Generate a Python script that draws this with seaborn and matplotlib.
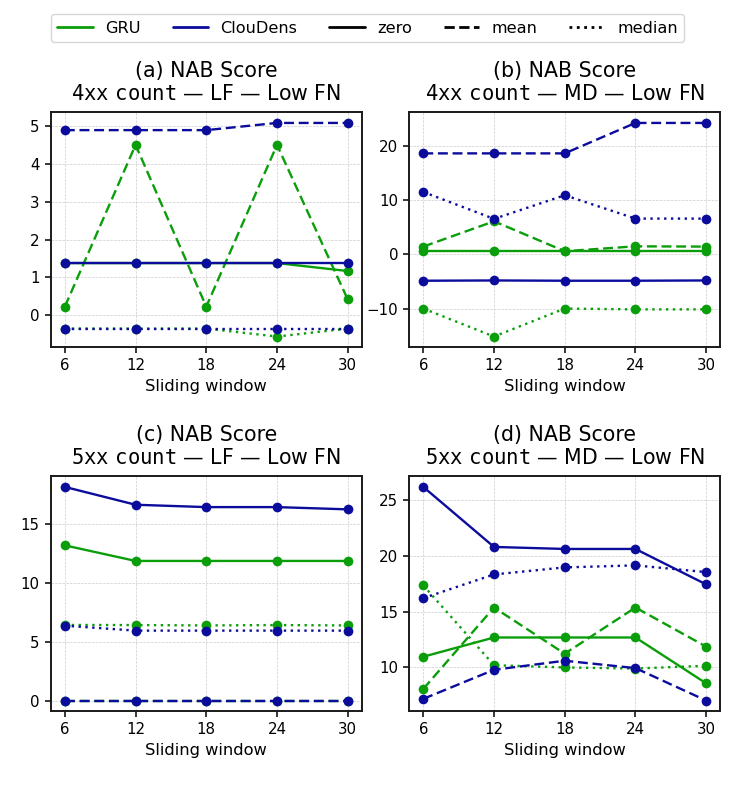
import pandas as pd
import seaborn as sns
import matplotlib.pyplot as plt
from matplotlib.lines import Line2D

windows = [6, 12, 18, 24, 30]
models = ["GRU", "ClouDens"]
stats = ["zero", "mean", "median"]

# 4xx count — LF
a_gru_zero = [1.38, 1.38, 1.38, 1.38, 1.17]
a_gru_mean = [0.23, 4.5, 0.23, 4.5, 0.42]
a_gru_median = [-0.35, -0.35, -0.35, -0.56, -0.35]
a_cd_zero = [1.37, 1.37, 1.37, 1.37, 1.37]
a_cd_mean = [4.89, 4.89, 4.89, 5.08, 5.08]
a_cd_median = [-0.35, -0.35, -0.35, -0.35, -0.35]

# 4xx count — MD
b_gru_zero = [0.67, 0.67, 0.67, 0.67, 0.67]
b_gru_mean = [1.45, 6.1, 0.6, 1.5, 1.45]
b_gru_median = [-9.95, -15.1, -9.95, -10.1, -10.1]
b_cd_zero = [-4.83, -4.78, -4.83, -4.83, -4.78]
b_cd_mean = [18.6, 18.6, 18.6, 24.2, 24.2]
b_cd_median = [11.5, 6.55, 10.9, 6.6, 6.6]

# 5xx count — LF
c_gru_zero = [13.2, 11.88, 11.88, 11.88, 11.88]
c_gru_mean = [0.06, 0.06, 0.06, 0.06, 0.06]
c_gru_median = [6.46, 6.45, 6.42, 6.45, 6.42]
c_cd_zero = [18.15, 16.64, 16.44, 16.44, 16.25]
c_cd_mean = [0.06, 0.06, 0.06, 0.06, 0.06]
c_cd_median = [6.4, 5.98, 5.98, 5.98, 5.98]

# 5xx count — MD
d_gru_zero = [10.96, 12.68, 12.68, 12.68, 8.58]
d_gru_mean = [8.08, 15.36, 11.23, 15.36, 11.86]
d_gru_median = [17.34, 10.2, 10.0, 9.9, 10.15]
d_cd_zero = [26.15, 20.78, 20.6, 20.6, 17.43]
d_cd_mean = [7.19, 9.79, 10.6, 9.94, 7.04]
d_cd_median = [16.2, 18.32, 18.95, 19.13, 18.53]

panels = [
    ("(a) NAB Score\n$\\mathtt{4xx\\ count}$ — LF — Low FN",
     {"GRU": [a_gru_zero, a_gru_mean, a_gru_median], "ClouDens": [a_cd_zero, a_cd_mean, a_cd_median]}),
    ("(b) NAB Score\n$\\mathtt{4xx\\ count}$ — MD — Low FN",
     {"GRU": [b_gru_zero, b_gru_mean, b_gru_median], "ClouDens": [b_cd_zero, b_cd_mean, b_cd_median]}),
    ("(c) NAB Score\n$\\mathtt{5xx\\ count}$ — LF — Low FN",
     {"GRU": [c_gru_zero, c_gru_mean, c_gru_median], "ClouDens": [c_cd_zero, c_cd_mean, c_cd_median]}),
    ("(d) NAB Score\n$\\mathtt{5xx\\ count}$ — MD — Low FN",
     {"GRU": [d_gru_zero, d_gru_mean, d_gru_median], "ClouDens": [d_cd_zero, d_cd_mean, d_cd_median]}),
]

colors = {"GRU": "#0a9e0a", "ClouDens": "#0c0c9c"}
dashes = {"zero": "", "mean": (4.2, 2.0), "median": (1.0, 1.9)}
markers = {"zero": "o", "mean": "o", "median": "o"}

sns.set_theme(style="ticks")
plt.rcParams["font.family"] = ["DejaVu Sans"]
plt.rcParams["mathtext.fontset"] = "dejavusans"
for key in ["text.color", "axes.labelcolor", "xtick.color", "ytick.color"]:
    plt.rcParams[key] = "black"

fig, axes = plt.subplots(2, 2, figsize=(7.35, 7.85), dpi=100)
fig.subplots_adjust(left=0.069, right=0.98, top=0.857, bottom=0.094, hspace=0.549, wspace=0.152)

for ax, (title, vals) in zip(axes.flat, panels):
    rows = []
    for m in models:
        for s, series in zip(stats, vals[m]):
            for w, v in zip(windows, series):
                rows.append({"window": w, "score": v, "model": m, "stat": s})
    df = pd.DataFrame(rows)
    sns.lineplot(data=df, x="window", y="score", hue="model", style="stat",
                 hue_order=models, style_order=stats, palette=colors,
                 dashes=dashes, markers=markers, markersize=7, markeredgewidth=0,
                 linewidth=1.7, legend=False, ax=ax)
    ax.set_title(title, fontsize=14.8, linespacing=1.2, pad=9)
    ax.set_xticks(windows)
    ax.set_xlabel("Sliding window", fontsize=11.7)
    ax.set_ylabel("")
    ax.grid(True, linestyle="--", linewidth=0.5, color="#cccccc")
    ax.tick_params(labelsize=10.8, length=4.5, width=1.1)
    for sp in ax.spines.values():
        sp.set_linewidth(1.4)
        sp.set_color("#1a1a1a")

handles = [
    Line2D([], [], color=colors["GRU"], lw=2),
    Line2D([], [], color=colors["ClouDens"], lw=2),
    Line2D([], [], color="black", lw=2, linestyle="-"),
    Line2D([], [], color="black", lw=2, linestyle="--"),
    Line2D([], [], color="black", lw=2, linestyle=":"),
]
fig.legend(handles, ["GRU", "ClouDens", "zero", "mean", "median"], loc="upper center",
           bbox_to_anchor=(0.5, 0.982), borderaxespad=0, ncol=5, fontsize=11.6,
           frameon=True, handlelength=2.2, handletextpad=0.75, columnspacing=2.0)

fig.savefig("out.png", dpi=100)
